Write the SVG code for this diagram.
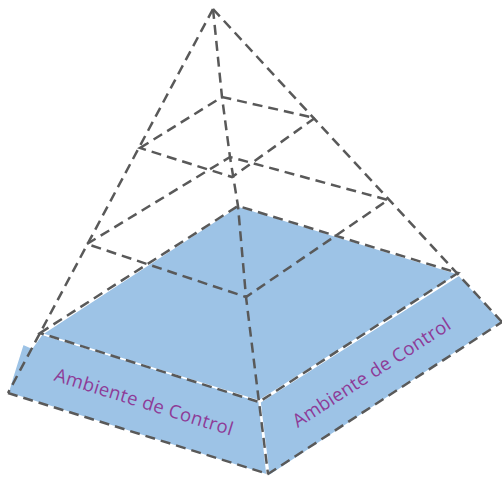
<svg xmlns="http://www.w3.org/2000/svg" width="502" height="477" viewBox="0 0 502 477">
<style>
.face{fill:#9DC3E6;stroke:#FFFFFF;stroke-width:1.5;stroke-linejoin:round}
.dash{fill:none;stroke:#595959;stroke-width:2.5;stroke-dasharray:10 6;stroke-linejoin:miter}
.lbl{font-family:"Open Sans","DejaVu Sans",sans-serif;font-size:18.5px;fill:#8E3B97;text-anchor:middle}
</style>
<rect width="502" height="477" fill="#FFFFFF"/>
<g id="base-layer">
<polygon class="face" points="8,393 13,376 23,344 32,348 42,334 259,401 267,475"/>
<polygon class="face" points="260,402 459,275 502,322 269,476"/>
<polygon class="face" points="42,334 238,206 459,274 259,401"/>
<text class="lbl" transform="translate(142,408) rotate(17.3)" textLength="186" lengthAdjust="spacing">Ambiente de Control</text>
<text class="lbl" transform="translate(375,378) rotate(-33)" textLength="184" lengthAdjust="spacing">Ambiente de Control</text>
</g>
<g id="connectors">
<path class="dash" d="M213,9 L8,393"/>
<path class="dash" d="M213,9 L502,322"/>
<path class="dash" d="M213,9 L222,97 L230,157 L238,206 L246,297 L259,402 L268,474"/>
<polygon class="dash" points="140,148 222,97 315,118 232,177"/>
<polygon class="dash" points="87,244 230,157 388,200 246,297"/>
<polygon class="dash" points="40,333 238,206 458,273 259,402"/>
<path class="dash" d="M8,393 L268,474 L502,322"/>
</g>
</svg>
